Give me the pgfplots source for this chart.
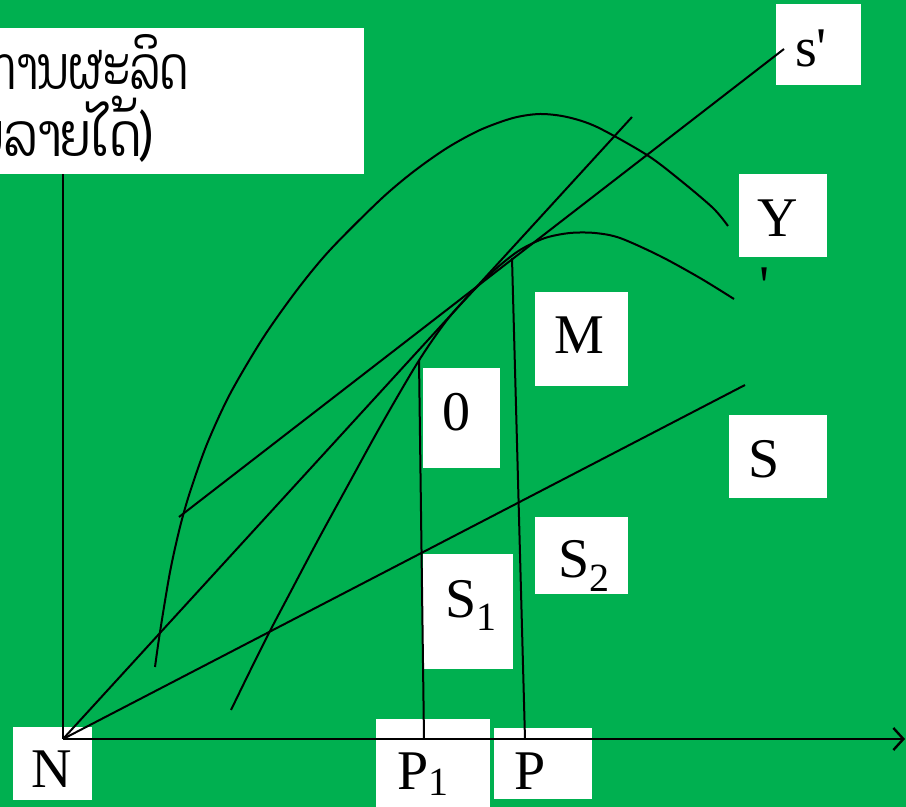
\documentclass[border=0pt]{standalone}
\usepackage{fontspec}
\setmainfont{Liberation Serif}
\newfontfamily\laofont[Script=Lao]{Dhyana}
\usepackage{pgfplots}
\pgfplotsset{compat=1.18}
\usetikzlibrary{arrows.meta}
\definecolor{bg}{RGB}{0,176,80}
\newcommand{\sub}[2][7pt]{\raisebox{-#1}{\fontsize{20}{20}\selectfont #2}}
\newcommand{\lao}[2][0.8]{\scalebox{#1}[1]{\fontsize{30}{30}\selectfont\laofont #2}}

\begin{document}
\begin{tikzpicture}[
  box/.style={fill=white, draw=none},
  lbl/.style={font=\fontsize{28}{28}\selectfont, anchor=base, inner sep=0pt},
]
\begin{axis}[
  scale only axis, width=453pt, height=403.5pt,
  xmin=0, xmax=906, ymin=0, ymax=807, y dir=reverse,
  ticks=none, axis line style={draw=none},
  axis background/.style={fill=bg},
  cycle list={{black, solid, mark=none}},
  every axis plot/.append style={line width=1pt},
]
% white label boxes
\addplot[box] coordinates {(-20,28) (364,28) (364,174) (-20,174)};
\addplot[box] coordinates {(776,4) (861,4) (861,85) (776,85)};
\addplot[box] coordinates {(739,174) (827,174) (827,257) (739,257)};
\addplot[box] coordinates {(535,292) (628,292) (628,386) (535,386)};
\addplot[box] coordinates {(423,368) (500,368) (500,468) (423,468)};
\addplot[box] coordinates {(729,415) (827,415) (827,498) (729,498)};
\addplot[box] coordinates {(535,517) (628,517) (628,594) (535,594)};
\addplot[box] coordinates {(423,554) (513,554) (513,669) (423,669)};
\addplot[box] coordinates {(13,727) (92,727) (92,800) (13,800)};
\addplot[box] coordinates {(376,719) (490,719) (490,820) (376,820)};
\addplot[box] coordinates {(494,728) (592,728) (592,799) (494,799)};

% axes
\addplot coordinates {(63,739) (63,174)};
\addplot+[line width=1.2pt, -{Straight Barb[length=5pt,width=11pt]}] coordinates {(63,739) (905,739)};

% upper curve
\addplot+[smooth, tension=0.5] coordinates {
(155,667) (160,632) (170,572) (180,527) (190,492) (207,444) (230,394)
(263,338) (297,290) (330,250) (380,200) (413,172) (447,148) (480,130)
(513,118) (540,114) (567,117) (597,127) (647,155) (680,180) (713,208)
(728,226)};
% lower curve
\addplot+[smooth, tension=0.5] coordinates {
(231,710) (250,671) (270,631) (290,593) (318,540) (347,487) (380,427)
(418,362) (447,320) (473,291) (498,267) (520,250) (545,238) (570,233)
(595,233) (620,238) (660,256) (700,278) (734,299)};
% straight lines
\addplot coordinates {(63,739) (632,117)};
\addplot coordinates {(179,517) (784,49)};
\addplot coordinates {(63,739) (745,385)};
\addplot coordinates {(424,739) (419,360)};
\addplot coordinates {(525,739) (512,258)};

% labels
\node[lbl, anchor=base east] at (axis cs:188,90) {\lao[0.72]{ປະລິມານການຜະລິດ}};
\node[lbl, anchor=base east] at (axis cs:152,157) {\lao{(ຜົນລາຍໄດ້)}};
\node[lbl] at (axis cs:811,67) {s\textquotesingle};
\node[lbl] at (axis cs:778,237) {Y};
\node[lbl] at (axis cs:765,305) {\textquotesingle};
\node[lbl] at (axis cs:579,354) {M};
\node[lbl] at (axis cs:456,431) {0};
\node[lbl] at (axis cs:764,478) {S};
\node[lbl, anchor=base west] at (axis cs:558,578) {S\sub{2}};
\node[lbl, anchor=base west] at (axis cs:445,618) {S\sub[6pt]{1}};
\node[lbl] at (axis cs:52,788) {N};
\node[lbl, anchor=base west] at (axis cs:397,790) {P\sub[3pt]{1}};
\node[lbl, anchor=base west] at (axis cs:514,790) {P};
\end{axis}
\pgfresetboundingbox
\path[use as bounding box] (current axis.south west) rectangle (current axis.north east);
\end{tikzpicture}
\end{document}
